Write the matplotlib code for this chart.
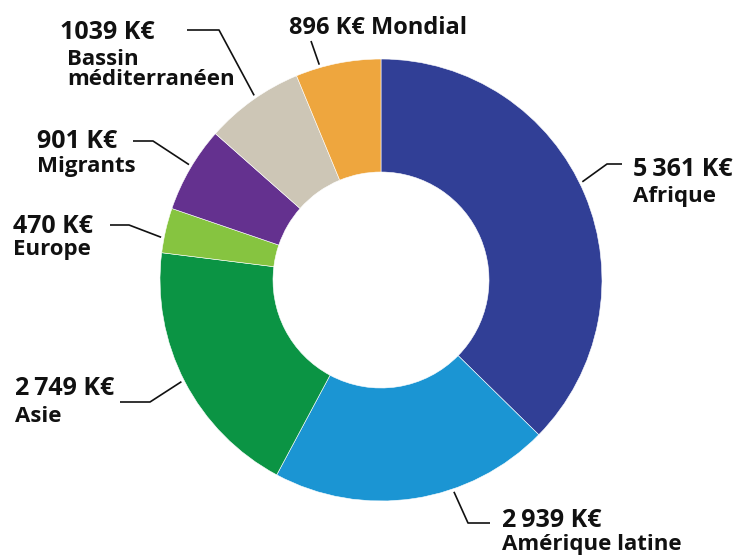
import numpy as np
import matplotlib.pyplot as plt

# data
regions = ['Afrique', 'Amérique latine', 'Asie', 'Europe', 'Migrants',
           'Bassin\nméditerranéen', 'Mondial']
amounts = [5361, 2939, 2749, 470, 901, 1039, 896]
value_labels = ['5\u2009361 K€', '2\u2009939 K€', '2\u2009749 K€', '470 K€',
                '901 K€', '1039 K€', '896 K€']
colors = ['#313f96', '#1b95d3', '#0b9444', '#86c440', '#64318f',
          '#cdc6b6', '#eea63e']

W, H = 743, 559
cx, cy = 381, 280
r_out, r_in = 221, 108

fig = plt.figure(figsize=(W / 100, H / 100), dpi=100)
ax = fig.add_axes([0, 0, 1, 1])

ax.pie(amounts, colors=colors, startangle=90, counterclock=False,
       radius=r_out, center=(cx, H - cy),
       wedgeprops=dict(width=r_out - r_in, edgecolor='white', linewidth=0.4))

ax.set_xlim(0, W)
ax.set_ylim(0, H)
ax.set_aspect('equal')
ax.axis('off')

# label layout (image pixel coords): anchor angle on ring, elbow, end, text pos
anchor_ang = [26, -71, 207, 169, 149, 124.5, 106]
elbows = [(607, 164), (468, 523), (150, 402), (129, 225), (153, 141), (219, 30), (311, 41)]
ends = [(622, 164), (490, 523), (120, 402), (110, 225), (133, 141), (187, 30), None]
text_xy = [(633, 176), (502, 527), (15, 395), (13, 233), (37, 148), (60, 39), (289, 34)]
name_xy = [(633, 202), (502, 550), (15, 422), (13, 255), (37, 172), (67, 85), None]

font = dict(family=['Open Sans', 'DejaVu Sans'], weight='bold', color='#111111')

for i in range(len(amounts)):
    a = np.deg2rad(anchor_ang[i])
    ax_ = cx + (r_out + 3) * np.cos(a)
    ay_ = cy - (r_out + 3) * np.sin(a)
    pts = [(ax_, ay_), elbows[i]]
    if ends[i] is not None:
        pts.append(ends[i])
    xs = [p[0] for p in pts]
    ys = [H - p[1] for p in pts]
    ax.plot(xs, ys, color='#111111', lw=1.2, solid_capstyle='butt')

    tx, ty = text_xy[i]
    if name_xy[i] is None:
        ax.text(tx, H - ty, value_labels[i] + ' ' + regions[i], fontsize=17,
                va='baseline', ha='left', **font)
    else:
        ax.text(tx, H - ty, value_labels[i], fontsize=18,
                va='baseline', ha='left', **font)
        nx, ny = name_xy[i]
        ax.text(nx, H - ny, regions[i], fontsize=16, va='baseline',
                ha='left', linespacing=0.95, **font)

fig.savefig('out.png', dpi=100)
